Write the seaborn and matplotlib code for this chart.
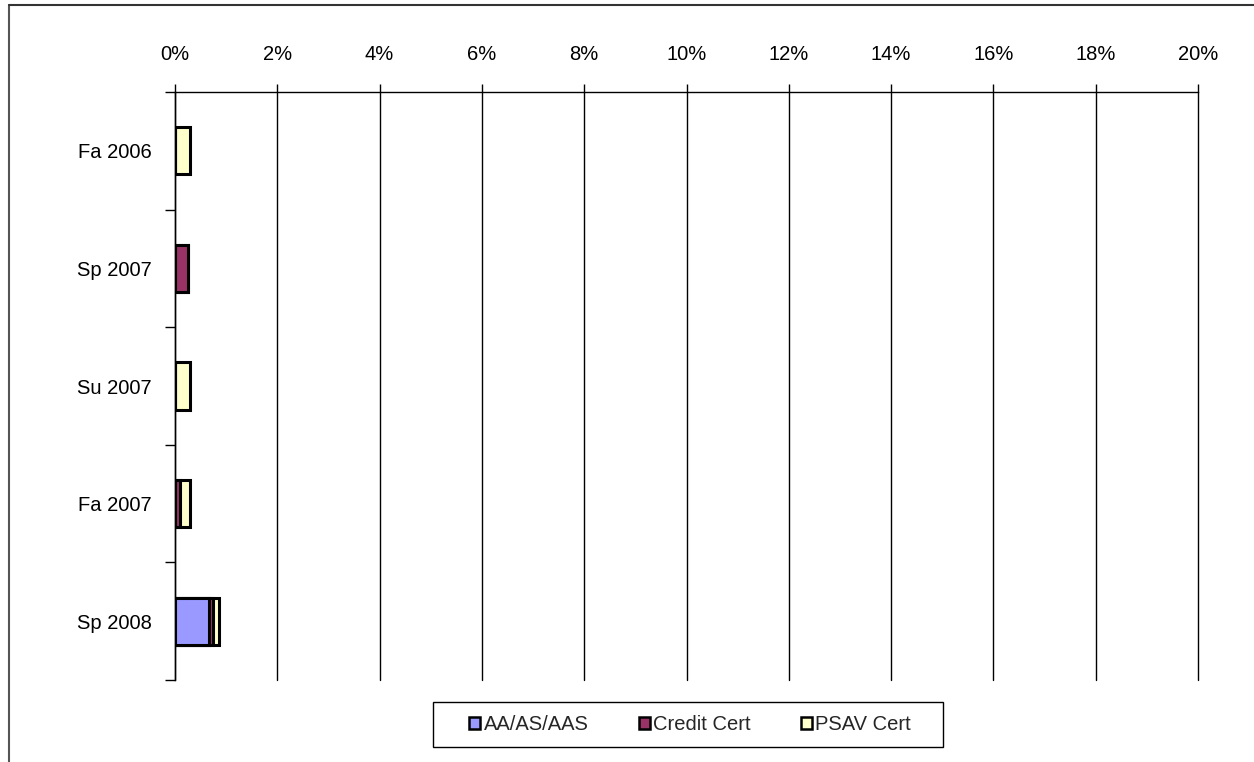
import matplotlib
matplotlib.use("Agg")
import matplotlib.pyplot as plt
import matplotlib.patches as mpatches
from matplotlib.lines import Line2D
from matplotlib.ticker import FixedLocator, FuncFormatter
import seaborn as sns

categories = ["Fa 2006", "Sp 2007", "Su 2007", "Fa 2007", "Sp 2008"]
aa = [0.0, 0.0, 0.0, 0.0, 0.66]
credit = [0.0, 0.25, 0.0, 0.10, 0.09]
psav = [0.30, 0.0, 0.30, 0.20, 0.11]
series_names = ["AA/AS/AAS", "Credit Cert", "PSAV Cert"]
colors = ["#9999FF", "#993366", "#FFFFCC"]
xticks = [0, 2, 4, 6, 8, 10, 12, 14, 16, 18, 20]

sns.set_style("white")
plt.rcParams["font.family"] = ["Liberation Sans", "DejaVu Sans"]
FS = 14.5

fig = plt.figure(figsize=(12.54, 7.62), dpi=100)
ax = fig.add_axes([175 / 1254, 1 - 680 / 762, (1198 - 175) / 1254, (680 - 92) / 762])

cum_ac = [a + c for a, c in zip(aa, credit)]
total = [a + c + p for a, c, p in zip(aa, credit, psav)]
for vals, col in [(total, colors[2]), (cum_ac, colors[1]), (aa, colors[0])]:
    sns.barplot(x=vals, y=categories, orient="h", color=col, saturation=1,
                width=0.4, edgecolor="black", linewidth=2.2, errorbar=None,
                ax=ax, zorder=3)

ax.set_xlim(0, 20)
ax.set_ylim(4.5, -0.5)
ax.set_xlabel("")
ax.set_ylabel("")
ax.xaxis.tick_top()
ax.set_xticks(xticks)
ax.xaxis.set_major_formatter(FuncFormatter(lambda v, p: f"{v:.0f}%"))
ax.tick_params(axis="x", which="major", direction="out", length=6, width=1,
               color="black", pad=14, labelsize=FS, labelcolor="black")
ax.yaxis.set_minor_locator(FixedLocator([-0.5, 0.5, 1.5, 2.5, 3.5, 4.5]))
ax.tick_params(axis="y", which="major", length=0, pad=17, labelsize=FS, labelcolor="black")
ax.tick_params(axis="y", which="minor", direction="out", length=7, width=1, color="black", left=True)
ax.grid(axis="x", color="black", linewidth=1, zorder=1)
ax.grid(axis="y", visible=False)
for gl in ax.get_xgridlines():
    gl.set_clip_on(False)
ax.set_axisbelow(True)
for s in ["right", "bottom"]:
    ax.spines[s].set_visible(False)
for s in ["left", "top"]:
    ax.spines[s].set_color("black")
    ax.spines[s].set_linewidth(1)

handles = [mpatches.Patch(facecolor=c, edgecolor="black", linewidth=1.8) for c in colors]
leg = fig.legend(handles, series_names, loc="center", bbox_to_anchor=(690 / 1254, 1 - 725 / 762),
                 ncol=3, frameon=False, fontsize=FS, handlelength=0.55, handleheight=0.55,
                 handletextpad=0.15, columnspacing=2.5, borderaxespad=0)

# legend frame
fig.patches.append(mpatches.Rectangle((433 / 1254, 1 - 747 / 762), (943 - 433) / 1254, 45 / 762,
                                      transform=fig.transFigure, fill=False, edgecolor="black",
                                      linewidth=1))
# outer chart border (left and top)
fig.lines.append(Line2D([9 / 1254, 9 / 1254], [0, 1 - 5 / 762], transform=fig.transFigure,
                        color="#555555", linewidth=1.5))
fig.lines.append(Line2D([9 / 1254, 1], [1 - 5 / 762, 1 - 5 / 762], transform=fig.transFigure,
                        color="#333333", linewidth=1.5))

fig.savefig("out.png", dpi=100)
